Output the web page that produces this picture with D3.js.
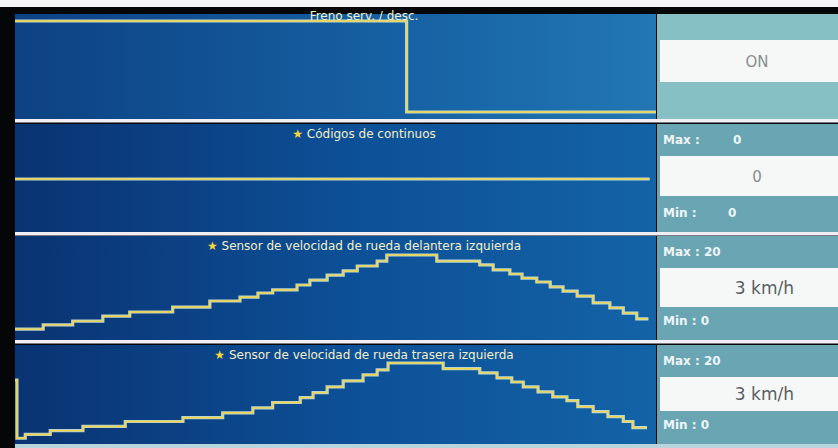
<!DOCTYPE html>
<html>
<head>
<meta charset="utf-8">
<script src="https://cdn.jsdelivr.net/npm/d3@7"></script>
<style>
  html, body { margin: 0; padding: 0; background: #000; }
  svg { display: block; }
</style>
</head>
<body>
<svg id="chart" width="838" height="448"></svg>
<script>
// titles of the four traces
var titles = [
    'Freno serv. / desc.',
    'C\u00f3digos de continuos',
    'Sensor de velocidad de rueda delantera izquierda',
    'Sensor de velocidad de rueda trasera izquierda'
];
var starred = [false, true, true, true];

// current value, max and min shown in the side boxes
var currentText = ['ON', '0', '3 km/h', '3 km/h'];
var maxText = [null, '0', '20', '20'];
var minText = [null, '0', '0', '0'];

// freno: on/off state over time (s)
var frenoTime = [0, 61.1, 100];
var frenoValue = [1, 0, 0];

// codigos de continuos
var codigosTime = [0, 99];
var codigosValue = [0, 0];

// front left wheel speed (km/h)
var delanteraTime = [0, 4.4, 9.0, 13.7, 17.9, 24.6, 30.4, 35.1, 37.9, 40.2, 44.0, 46.0, 48.7,
    51.2, 53.4, 56.5, 58.0, 65.8, 72.5, 74.6, 77.2, 79.1, 81.4, 83.5, 85.5, 87.7, 90.2,
    92.8, 94.9, 97.0, 98.8];
var delanteraValue = [0.5, 1.6, 2.6, 3.9, 5.0, 6.3, 7.9, 8.9, 10.0, 10.8, 12.1, 13.4, 14.7,
    15.8, 17.1, 18.4, 20, 18.4, 17.4, 16.1, 15.0, 13.9, 12.9, 11.6, 10.5, 9.2, 7.4,
    6.1, 4.7, 3.2, 3.2];

// rear left wheel speed (km/h)
var traseraTime = [0, 0.3, 1.6, 5.5, 10.6, 17.2, 26.2, 32.4, 37.1, 40.2, 44.5, 46.5, 48.7,
    51.2, 54.3, 56.5, 58.2, 66.8, 72.5, 75.2, 77.5, 79.3, 81.6, 83.9, 86.1, 87.8, 90.2,
    92.5, 94.9, 96.4, 98.6];
var traseraValue = [15.5, 0.2, 1.2, 2.2, 3.3, 4.6, 5.6, 6.9, 8.2, 9.6, 10.9, 12.2, 13.7,
    15.3, 16.9, 18.2, 20, 18.5, 17.4, 16.1, 15.0, 13.7, 12.4, 11.1, 10.1, 8.5, 7.2,
    5.9, 4.6, 3.0, 3.0];

var svg = d3.select('#chart'),
    width = +svg.attr('width'),
    height = +svg.attr('height');

var plotLeft = 15, plotRight = 656, sideLeft = 657;

// panel frames
var panels = [
    { top: 14, bottom: 119, domain: [0, 1], pad: [7, 7], time: frenoTime, value: frenoValue },
    { top: 124, bottom: 232, domain: [-1, 1], pad: [0, 0], time: codigosTime, value: codigosValue },
    { top: 236, bottom: 340, domain: [0, 20], pad: [9, 19], time: delanteraTime, value: delanteraValue },
    { top: 345, bottom: 444, domain: [0, 20], pad: [5, 18], time: traseraTime, value: traseraValue }
];

var defs = svg.append('defs');
var grad = defs.append('linearGradient').attr('id', 'bg').attr('x1', 0).attr('x2', 1);
grad.append('stop').attr('offset', '0%').attr('stop-color', '#0a3372');
grad.append('stop').attr('offset', '55%').attr('stop-color', '#0d5198');
grad.append('stop').attr('offset', '100%').attr('stop-color', '#1463a7');

var grad1 = defs.append('linearGradient').attr('id', 'bg1').attr('x1', 0).attr('x2', 1);
grad1.append('stop').attr('offset', '0%').attr('stop-color', '#0d4284');
grad1.append('stop').attr('offset', '60%').attr('stop-color', '#1661a3');
grad1.append('stop').attr('offset', '100%').attr('stop-color', '#2277b4');

// black screen bezel and white top
svg.append('rect').attr('width', width).attr('height', height).attr('fill', '#050608');
svg.append('rect').attr('width', width).attr('height', 7).attr('fill', '#f4f4f6');

var x = d3.scaleLinear().domain([0, 100]).range([plotLeft, plotRight]);

panels.forEach(function (p, i) {

    var g = svg.append('g');

    g.append('rect')
        .attr('x', plotLeft)
        .attr('y', p.top)
        .attr('width', plotRight - plotLeft)
        .attr('height', p.bottom - p.top)
        .attr('fill', i === 0 ? 'url(#bg1)' : 'url(#bg)');

    // side panel
    g.append('rect')
        .attr('x', sideLeft)
        .attr('y', p.top)
        .attr('width', width - sideLeft)
        .attr('height', p.bottom - p.top)
        .attr('fill', i === 0 ? '#86c0c4' : '#6aa5b4');

    var boxTop, boxBottom;
    if (i === 0) { boxTop = 40; boxBottom = 82; }
    else { boxTop = p.top + 32; boxBottom = p.bottom - (i === 1 ? 36 : 33); }

    g.append('rect')
        .attr('x', sideLeft + 3)
        .attr('y', boxTop)
        .attr('width', width - sideLeft - 3)
        .attr('height', boxBottom - boxTop)
        .attr('fill', '#f6f8f8');

    g.append('text')
        .attr('x', i < 2 ? 757 : 794)
        .attr('y', (boxTop + boxBottom) / 2 + 6)
        .attr('text-anchor', i < 2 ? 'middle' : 'end')
        .attr('font-family', 'DejaVu Sans, sans-serif')
        .attr('font-size', i < 2 ? 15 : 17)
        .attr('fill', i < 2 ? '#8a8d8f' : '#5a5e62')
        .text(currentText[i]);

    if (maxText[i] !== null) {
        var maxY = p.top + 20, minY = p.bottom - 15;
        [[maxY, maxText[i]], [minY, minText[i]]].forEach(function (row, k) {
            g.append('text')
                .attr('x', 663)
                .attr('y', row[0])
                .attr('font-family', 'DejaVu Sans, sans-serif')
                .attr('font-size', 12)
                .attr('font-weight', 'bold')
                .attr('fill', '#eef6f8')
                .text((k === 0 ? 'Max' : 'Min') + ' : ' + (i === 1 ? '' : row[1]));
            if (i === 1) {
                g.append('text')
                    .attr('x', k === 0 ? 733 : 728)
                    .attr('y', row[0])
                    .attr('font-family', 'DejaVu Sans, sans-serif')
                    .attr('font-size', 12)
                    .attr('font-weight', 'bold')
                    .attr('fill', '#eef6f8')
                    .text(row[1]);
            }
        });
    }

    var y = d3.scaleLinear()
        .domain(p.domain)
        .range([p.bottom - p.pad[0], p.top + p.pad[1]]);
    if (i === 1) y.range([p.bottom - 53, p.bottom - 53]);

    var pts = p.time.map(function (t, k) { return [t, p.value[k]]; });
    var line = d3.line()
        .x(function (d) { return x(d[0]); })
        .y(function (d) { return y(d[1]); })
        .curve(d3.curveStepAfter);

    g.append('path')
        .attr('d', line(pts))
        .attr('fill', 'none')
        .attr('stroke', '#d9ecd8')
        .attr('stroke-width', 3.2)
        .attr('stroke-opacity', 0.85);

    g.append('path')
        .attr('d', line(pts))
        .attr('fill', 'none')
        .attr('stroke', '#f2d64a')
        .attr('stroke-width', 1.4);

    var title = g.append('text')
        .attr('x', 364)
        .attr('y', p.top + (i === 0 ? 6 : 14))
        .attr('text-anchor', 'middle')
        .attr('font-family', 'DejaVu Sans, sans-serif')
        .attr('font-size', 12)
        .attr('fill', '#f3efc8');
    if (starred[i]) {
        title.append('tspan').attr('fill', '#f5d83a').text('\u2605 ');
    }
    title.append('tspan').text(titles[i]);
});

// white separators between the traces
[121, 234, 342].forEach(function (yy) {
    svg.append('rect')
        .attr('x', plotLeft)
        .attr('y', yy - 2)
        .attr('width', width - plotLeft)
        .attr('height', 3.5)
        .attr('fill', '#f1eef4');
});
svg.append('rect')
    .attr('x', plotLeft).attr('y', 444)
    .attr('width', width - plotLeft).attr('height', 4)
    .attr('fill', '#b8d4dc');
</script>
</body>
</html>
